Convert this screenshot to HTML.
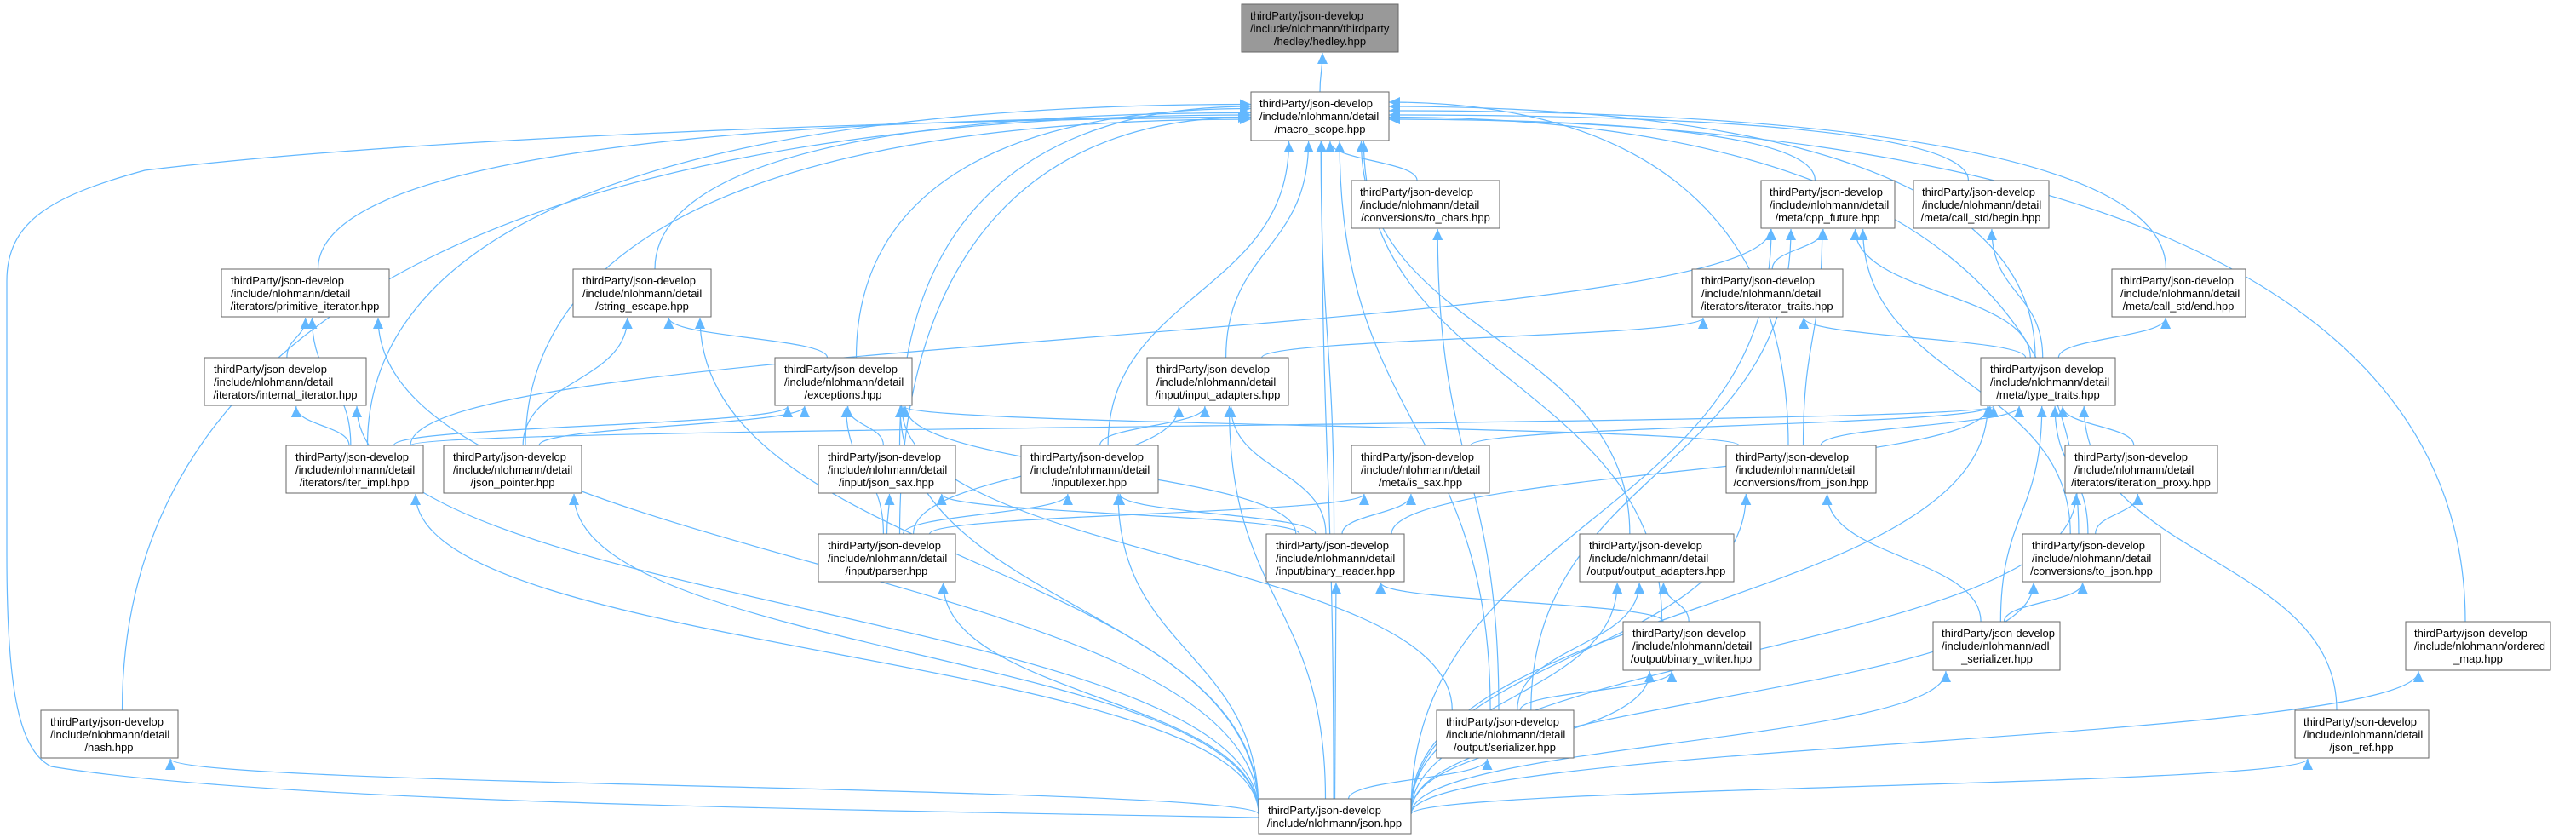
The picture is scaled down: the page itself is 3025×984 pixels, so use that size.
<!DOCTYPE html>
<html><head><meta charset="utf-8"><style>
html,body{margin:0;padding:0;background:#fff;}
svg{display:block;}
text{font-family:"Liberation Sans",Arial,sans-serif;font-size:13px;fill:#000;}
</style></head><body>
<svg id="g" width="3025" height="984" viewBox="0 0 3025 984" xmlns="http://www.w3.org/2000/svg">
<defs><marker id="ah" markerUnits="userSpaceOnUse" markerWidth="14" markerHeight="12" refX="13" refY="6" orient="auto"><path d="M0,0 L13,6 L0,12 z" fill="#63b8ff"/></marker></defs>
<g id="edges" fill="none" stroke="#63b8ff" stroke-width="1.2">
<path d="M1478,960 C900,950 300,940 60,900 C20,880 8,800 8,650 L8,330 C8,260 60,230 170,200 C500,160 1100,140 1467,138" marker-end="url(#ah)"/>
</g>
<g id="nodes">
<rect x="1458" y="5" width="184" height="56" fill="#999" stroke="#666"/>
<text x="1468" y="23">thirdParty/json-develop</text><text x="1468" y="38">/include/nlohmann/thirdparty</text><text x="1550" y="53" text-anchor="middle">/hedley/hedley.hpp</text>
<rect x="1469" y="108" width="162" height="57" fill="#fff" stroke="#666"/>
<text x="1479" y="126">thirdParty/json-develop</text><text x="1479" y="141">/include/nlohmann/detail</text><text x="1550" y="156" text-anchor="middle">/macro_scope.hpp</text>
<rect x="1587" y="212" width="174" height="56" fill="#fff" stroke="#666"/>
<text x="1597" y="230">thirdParty/json-develop</text><text x="1597" y="245">/include/nlohmann/detail</text><text x="1674" y="260" text-anchor="middle">/conversions/to_chars.hpp</text>
<rect x="2068" y="212" width="157" height="56" fill="#fff" stroke="#666"/>
<text x="2078" y="230">thirdParty/json-develop</text><text x="2078" y="245">/include/nlohmann/detail</text><text x="2146" y="260" text-anchor="middle">/meta/cpp_future.hpp</text>
<rect x="2247" y="212" width="159" height="56" fill="#fff" stroke="#666"/>
<text x="2257" y="230">thirdParty/json-develop</text><text x="2257" y="245">/include/nlohmann/detail</text><text x="2326" y="260" text-anchor="middle">/meta/call_std/begin.hpp</text>
<rect x="260" y="316" width="197" height="56" fill="#fff" stroke="#666"/>
<text x="271" y="334">thirdParty/json-develop</text><text x="271" y="349">/include/nlohmann/detail</text><text x="358" y="364" text-anchor="middle">/iterators/primitive_iterator.hpp</text>
<rect x="673" y="316" width="162" height="56" fill="#fff" stroke="#666"/>
<text x="684" y="334">thirdParty/json-develop</text><text x="684" y="349">/include/nlohmann/detail</text><text x="754" y="364" text-anchor="middle">/string_escape.hpp</text>
<rect x="1987" y="316" width="177" height="56" fill="#fff" stroke="#666"/>
<text x="1998" y="334">thirdParty/json-develop</text><text x="1998" y="349">/include/nlohmann/detail</text><text x="2075" y="364" text-anchor="middle">/iterators/iterator_traits.hpp</text>
<rect x="2480" y="316" width="157" height="56" fill="#fff" stroke="#666"/>
<text x="2490" y="334">thirdParty/json-develop</text><text x="2490" y="349">/include/nlohmann/detail</text><text x="2558" y="364" text-anchor="middle">/meta/call_std/end.hpp</text>
<rect x="240" y="420" width="190" height="56" fill="#fff" stroke="#666"/>
<text x="251" y="438">thirdParty/json-develop</text><text x="251" y="453">/include/nlohmann/detail</text><text x="335" y="468" text-anchor="middle">/iterators/internal_iterator.hpp</text>
<rect x="910" y="420" width="161" height="56" fill="#fff" stroke="#666"/>
<text x="921" y="438">thirdParty/json-develop</text><text x="921" y="453">/include/nlohmann/detail</text><text x="990" y="468" text-anchor="middle">/exceptions.hpp</text>
<rect x="1347" y="420" width="166" height="56" fill="#fff" stroke="#666"/>
<text x="1358" y="438">thirdParty/json-develop</text><text x="1358" y="453">/include/nlohmann/detail</text><text x="1430" y="468" text-anchor="middle">/input/input_adapters.hpp</text>
<rect x="2326" y="420" width="158" height="56" fill="#fff" stroke="#666"/>
<text x="2337" y="438">thirdParty/json-develop</text><text x="2337" y="453">/include/nlohmann/detail</text><text x="2405" y="468" text-anchor="middle">/meta/type_traits.hpp</text>
<rect x="336" y="523" width="161" height="56" fill="#fff" stroke="#666"/>
<text x="347" y="541">thirdParty/json-develop</text><text x="347" y="556">/include/nlohmann/detail</text><text x="416" y="571" text-anchor="middle">/iterators/iter_impl.hpp</text>
<rect x="521" y="523" width="162" height="56" fill="#fff" stroke="#666"/>
<text x="532" y="541">thirdParty/json-develop</text><text x="532" y="556">/include/nlohmann/detail</text><text x="602" y="571" text-anchor="middle">/json_pointer.hpp</text>
<rect x="961" y="523" width="161" height="56" fill="#fff" stroke="#666"/>
<text x="972" y="541">thirdParty/json-develop</text><text x="972" y="556">/include/nlohmann/detail</text><text x="1041" y="571" text-anchor="middle">/input/json_sax.hpp</text>
<rect x="1199" y="523" width="161" height="56" fill="#fff" stroke="#666"/>
<text x="1210" y="541">thirdParty/json-develop</text><text x="1210" y="556">/include/nlohmann/detail</text><text x="1279" y="571" text-anchor="middle">/input/lexer.hpp</text>
<rect x="1587" y="523" width="162" height="56" fill="#fff" stroke="#666"/>
<text x="1598" y="541">thirdParty/json-develop</text><text x="1598" y="556">/include/nlohmann/detail</text><text x="1668" y="571" text-anchor="middle">/meta/is_sax.hpp</text>
<rect x="2027" y="523" width="176" height="56" fill="#fff" stroke="#666"/>
<text x="2038" y="541">thirdParty/json-develop</text><text x="2038" y="556">/include/nlohmann/detail</text><text x="2115" y="571" text-anchor="middle">/conversions/from_json.hpp</text>
<rect x="2425" y="523" width="179" height="56" fill="#fff" stroke="#666"/>
<text x="2436" y="541">thirdParty/json-develop</text><text x="2436" y="556">/include/nlohmann/detail</text><text x="2514" y="571" text-anchor="middle">/iterators/iteration_proxy.hpp</text>
<rect x="961" y="627" width="161" height="56" fill="#fff" stroke="#666"/>
<text x="972" y="645">thirdParty/json-develop</text><text x="972" y="660">/include/nlohmann/detail</text><text x="1041" y="675" text-anchor="middle">/input/parser.hpp</text>
<rect x="1487" y="627" width="162" height="56" fill="#fff" stroke="#666"/>
<text x="1498" y="645">thirdParty/json-develop</text><text x="1498" y="660">/include/nlohmann/detail</text><text x="1568" y="675" text-anchor="middle">/input/binary_reader.hpp</text>
<rect x="1855" y="627" width="181" height="56" fill="#fff" stroke="#666"/>
<text x="1866" y="645">thirdParty/json-develop</text><text x="1866" y="660">/include/nlohmann/detail</text><text x="1945" y="675" text-anchor="middle">/output/output_adapters.hpp</text>
<rect x="2375" y="627" width="162" height="56" fill="#fff" stroke="#666"/>
<text x="2386" y="645">thirdParty/json-develop</text><text x="2386" y="660">/include/nlohmann/detail</text><text x="2456" y="675" text-anchor="middle">/conversions/to_json.hpp</text>
<rect x="1906" y="730" width="161" height="57" fill="#fff" stroke="#666"/>
<text x="1917" y="748">thirdParty/json-develop</text><text x="1917" y="763">/include/nlohmann/detail</text><text x="1986" y="778" text-anchor="middle">/output/binary_writer.hpp</text>
<rect x="2270" y="730" width="149" height="57" fill="#fff" stroke="#666"/>
<text x="2280" y="748">thirdParty/json-develop</text><text x="2280" y="763">/include/nlohmann/adl</text><text x="2345" y="778" text-anchor="middle">_serializer.hpp</text>
<rect x="2825" y="730" width="170" height="57" fill="#fff" stroke="#666"/>
<text x="2835" y="748">thirdParty/json-develop</text><text x="2835" y="763">/include/nlohmann/ordered</text><text x="2910" y="778" text-anchor="middle">_map.hpp</text>
<rect x="48" y="834" width="161" height="56" fill="#fff" stroke="#666"/>
<text x="59" y="852">thirdParty/json-develop</text><text x="59" y="867">/include/nlohmann/detail</text><text x="128" y="882" text-anchor="middle">/hash.hpp</text>
<rect x="1687" y="834" width="161" height="56" fill="#fff" stroke="#666"/>
<text x="1698" y="852">thirdParty/json-develop</text><text x="1698" y="867">/include/nlohmann/detail</text><text x="1767" y="882" text-anchor="middle">/output/serializer.hpp</text>
<rect x="2695" y="834" width="157" height="56" fill="#fff" stroke="#666"/>
<text x="2705" y="852">thirdParty/json-develop</text><text x="2705" y="867">/include/nlohmann/detail</text><text x="2773" y="882" text-anchor="middle">/json_ref.hpp</text>
<rect x="1478" y="938" width="179" height="41" fill="#fff" stroke="#666"/>
<text x="1489" y="956">thirdParty/json-develop</text><text x="1567" y="971" text-anchor="middle">/include/nlohmann/json.hpp</text>
</g>
</svg>
<script>
var N={hedley:[1458,5,184,56],macro:[1469,108,162,57],to_chars:[1587,212,174,56],cpp_future:[2068,212,157,56],begin:[2247,212,159,56],
prim:[260,316,197,56],stresc:[673,316,162,56],itraits:[1987,316,177,56],end:[2480,316,157,56],internal:[240,420,190,56],
exceptions:[910,420,161,56],input_adapters:[1347,420,166,56],type_traits:[2326,420,158,56],iter_impl:[336,523,161,56],
json_pointer:[521,523,162,56],json_sax:[961,523,161,56],lexer:[1199,523,161,56],is_sax:[1587,523,162,56],from_json:[2027,523,176,56],
iteration_proxy:[2425,523,179,56],parser:[961,627,161,56],binary_reader:[1487,627,162,56],output_adapters:[1855,627,181,56],
to_json:[2375,627,162,56],binary_writer:[1906,730,161,57],adl:[2270,730,149,57],ordered_map:[2825,730,170,57],hash:[48,834,161,56],
serializer:[1687,834,161,56],json_ref:[2695,834,157,56],json:[1478,938,179,41]};
var E=[["macro","hedley"],
["prim","macro"],["stresc","macro"],["exceptions","macro"],["iter_impl","macro"],["json_pointer","macro"],["hash","macro"],["json","macro"],
["json_sax","macro"],["lexer","macro"],["parser","macro"],["input_adapters","macro"],["binary_reader","macro"],["to_chars","macro"],
["cpp_future","macro"],["begin","macro"],["end","macro"],["type_traits","macro"],["from_json","macro"],["to_json","macro"],
["output_adapters","macro"],["binary_writer","macro"],["serializer","macro"],["ordered_map","macro"],
["internal","prim"],["iter_impl","prim"],["json","prim"],["iter_impl","internal"],["json","internal"],
["exceptions","stresc"],["json_pointer","stresc"],["json","stresc"],
["iter_impl","exceptions"],["json_pointer","exceptions"],["json_sax","exceptions"],["parser","exceptions"],["binary_reader","exceptions"],
["from_json","exceptions"],["serializer","exceptions"],["json","exceptions"],
["serializer","to_chars"],
["itraits","cpp_future"],["type_traits","cpp_future"],["iter_impl","cpp_future"],["from_json","cpp_future"],["to_json","cpp_future"],["serializer","cpp_future"],["json","cpp_future"],
["type_traits","begin"],["type_traits","end"],["type_traits","itraits"],["input_adapters","itraits"],
["iter_impl","type_traits"],["from_json","type_traits"],["is_sax","type_traits"],["binary_reader","type_traits"],["iteration_proxy","type_traits"],
["to_json","type_traits"],["adl","type_traits"],["json_ref","type_traits"],["json","type_traits"],
["lexer","input_adapters"],["parser","input_adapters"],["binary_reader","input_adapters"],["json","input_adapters"],
["parser","json_sax"],["binary_reader","json_sax"],["parser","lexer"],["binary_reader","lexer"],["json","lexer"],
["parser","is_sax"],["binary_reader","is_sax"],["json","parser"],["binary_writer","binary_reader"],["json","binary_reader"],
["binary_writer","output_adapters"],["serializer","output_adapters"],["json","output_adapters"],["serializer","binary_writer"],["json","binary_writer"],
["json","serializer"],["adl","from_json"],["json","from_json"],["to_json","iteration_proxy"],["json","iteration_proxy"],
["adl","to_json"],["json","to_json"],["json","adl"],["json","json_ref"],["json","ordered_map"],["json","iter_impl"],["json","json_pointer"],["json","hash"]];
var g=document.getElementById("edges"),ns="http://www.w3.org/2000/svg",cnt={};
function cx(n){return n[0]+n[2]/2;}
E.forEach(function(e,i){
 var s=N[e[0]],t=N[e[1]],sx,sy,tx,ty,d;
 var k=e[1];cnt[k]=(cnt[k]||0)+1;var j=((cnt[k]*7)%9-4);
 var dx=cx(s)-cx(t);
 if(e[1]=="macro"&&Math.abs(dx)>450){
   tx=dx<0?t[0]:t[0]+t[2]; ty=t[1]+22+j*2.5;
   sx=cx(s)+(dx<0?1:-1)*Math.min(30,s[2]/3)*0.5; sy=s[1];
   if(e[0]=="json"){sx=dx<0?s[0]:s[0]+s[2]; sy=s[1]+20;}
   d="M"+sx+","+sy+" C"+sx+","+(sy-(sy-ty)*0.7)+" "+(tx+(sx-tx)*0.6)+","+ty+" "+tx+","+ty;
 } else if(s[1]>t[1]+t[3]){
   sx=cx(s)-Math.max(-s[2]/2+15,Math.min(s[2]/2-15,dx*0.08)); sy=s[1];
   if(e[0]=="json"){ if(Math.abs(dx)>200){sx=dx>0?s[0]:s[0]+s[2]; sy=s[1]+15+j;} }
   tx=cx(t)+Math.max(-t[2]/2+12,Math.min(t[2]/2-12,dx*0.12))+j; ty=t[1]+t[3]+1;
   var h=sy-ty;
   d="M"+sx+","+sy+" C"+sx+","+(sy-h*0.5)+" "+tx+","+(ty+h*0.5)+" "+tx+","+ty;
 } else {
   sy=s[1]+s[3]/2; ty=t[1]+t[3]/2+j;
   if(dx<0){sx=s[0]+s[2];tx=t[0];}else{sx=s[0];tx=t[0]+t[2];}
   if(s[1]>t[1]){sy=s[1];sx=cx(s)+(dx<0?30:-30);}
   d="M"+sx+","+sy+" C"+(sx+tx)/2+","+sy+" "+(sx+tx)/2+","+ty+" "+tx+","+ty;
 }
 var p=document.createElementNS(ns,"path");p.setAttribute("d",d);p.setAttribute("marker-end","url(#ah)");g.appendChild(p);
});
</script>
</body></html>
